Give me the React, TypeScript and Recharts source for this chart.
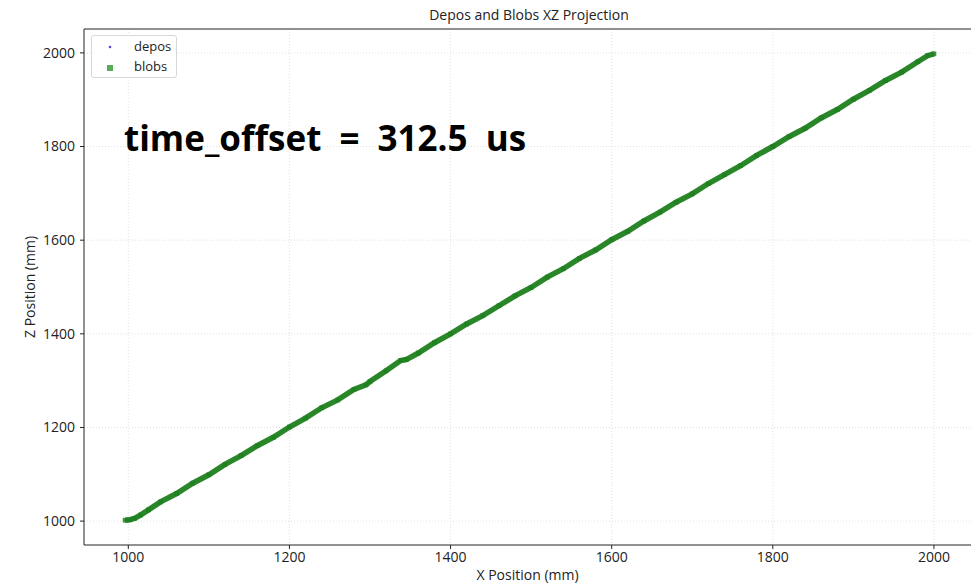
import React from "react";
import {
  CartesianGrid,
  ReferenceLine,
  Scatter,
  ScatterChart,
  XAxis,
  YAxis,
  ZAxis,
} from "recharts";

// blob positions (mm)
const blobX = [
  996, 1002, 1008, 1015, 1025, 1040, 1060, 1080, 1100, 1120, 1140, 1160, 1180,
  1200, 1220, 1240, 1260, 1280, 1295, 1300, 1320, 1338, 1345, 1360, 1380, 1400,
  1420, 1440, 1460, 1480, 1500, 1520, 1540, 1560, 1580, 1600, 1620, 1640, 1660,
  1680, 1700, 1720, 1740, 1760, 1780, 1800, 1820, 1840, 1860, 1880, 1900, 1920,
  1940, 1960, 1980, 1992, 2000,
];
const blobZ = [
  1002, 1003, 1006, 1013, 1024, 1041, 1059, 1081, 1099, 1121, 1140, 1161, 1179,
  1201, 1220, 1242, 1259, 1281, 1291, 1298, 1321, 1343, 1345, 1359, 1381, 1400,
  1421, 1439, 1460, 1481, 1499, 1521, 1539, 1561, 1579, 1601, 1619, 1641, 1660,
  1681, 1699, 1721, 1740, 1759, 1781, 1800, 1821, 1839, 1861, 1879, 1901, 1920,
  1941, 1959, 1981, 1994, 1998,
];

// depo positions (mm), mostly hidden under the blobs
const depoX = [1000, 1100, 1200, 1300, 1400, 1500, 1600, 1700, 1800, 1900, 2000];
const depoZ = [1001, 1100, 1200, 1300, 1400, 1500, 1600, 1700, 1800, 1900, 1999];

const xTicks = [1000, 1200, 1400, 1600, 1800, 2000];
const yTicks = [1000, 1200, 1400, 1600, 1800, 2000];

const blobs = blobX.map((x, i) => ({ x, z: blobZ[i] }));
const depos = depoX.map((x, i) => ({ x, z: depoZ[i] }));

const FONT = "'Open Sans', 'DejaVu Sans', sans-serif";
const X_DOMAIN = [945, 2046];
const Y_DOMAIN = [949, 2051];

const LegendBox = () => (
  <div
    style={{
      position: "absolute",
      left: 91,
      top: 35,
      width: 86,
      height: 43,
      boxSizing: "border-box",
      border: "1px solid #d8d8d8",
      borderRadius: 3,
      background: "rgba(255,255,255,0.9)",
      fontFamily: FONT,
      fontSize: 13,
      color: "#222",
    }}
  >
    <svg width={20} height={40} style={{ position: "absolute", left: 9, top: 1 }}>
      <circle cx={9} cy={10} r={1.3} fill="#4b4bd8" />
      <rect x={6} y={28} width={6} height={6} fill="#5aab5a" />
    </svg>
    <div style={{ position: "absolute", left: 42, top: 0, lineHeight: "20px" }}>depos</div>
    <div style={{ position: "absolute", left: 42, top: 20, lineHeight: "20px" }}>blobs</div>
  </div>
);

const DepoDot = (props: any) => (
  <circle cx={props.cx} cy={props.cy} r={1} fill="#3b3bd6" fillOpacity={0.7} />
);

export default function App() {
  return (
    <div
      style={{
        position: "absolute",
        left: 0,
        top: 0,
        width: 971,
        height: 586,
        background: "#fff",
        overflow: "hidden",
      }}
    >
      <div
        style={{
          position: "absolute",
          top: 5,
          left: 84,
          width: 890,
          textAlign: "center",
          fontFamily: FONT,
          fontSize: 14,
          color: "#222",
        }}
      >
        Depos and Blobs XZ Projection
      </div>
      <ScatterChart
        width={971}
        height={586}
        margin={{ top: 29, right: 0, bottom: 0, left: 0 }}
      >
        <CartesianGrid
          stroke="#e0e0e0"
          strokeDasharray="1 2"
          verticalValues={xTicks}
          horizontalValues={yTicks}
        />
        <XAxis
          type="number"
          dataKey="x"
          domain={X_DOMAIN}
          ticks={xTicks}
          allowDataOverflow
          height={41}
          tickSize={4}
          tickMargin={3}
          stroke="#222"
          tick={{ fill: "#222", fontSize: 14, fontFamily: FONT }}
          label={{
            value: "X Position (mm)",
            position: "insideBottom",
            offset: 6,
            fill: "#222",
            fontSize: 14,
            fontFamily: FONT,
          }}
        />
        <YAxis
          type="number"
          dataKey="z"
          domain={Y_DOMAIN}
          ticks={yTicks}
          allowDataOverflow
          width={84}
          tickSize={4}
          tickMargin={5}
          stroke="#222"
          tick={{ fill: "#222", fontSize: 14, fontFamily: FONT }}
          label={{
            value: "Z Position (mm)",
            angle: -90,
            position: "insideLeft",
            offset: 30,
            fill: "#222",
            fontSize: 14,
            fontFamily: FONT,
            style: { textAnchor: "middle" },
          }}
        />
        <ZAxis range={[22, 22]} />
        <ReferenceLine y={Y_DOMAIN[1]} stroke="#222" ifOverflow="extendDomain" />
        <Scatter
          name="depos"
          data={depos}
          shape={<DepoDot />}
          isAnimationActive={false}
        />
        <Scatter
          name="blobs"
          data={blobs}
          fill="#1e801e"
          fillOpacity={0.85}
          shape="square"
          line={{ stroke: "#1e801e", strokeWidth: 5.5, strokeOpacity: 0.95 }}
          lineType="joint"
          isAnimationActive={false}
        />
      </ScatterChart>
      <LegendBox />
      <div
        style={{
          position: "absolute",
          left: 124,
          top: 114,
          fontFamily: FONT,
          fontWeight: 700,
          fontSize: 35,
          wordSpacing: 9,
          color: "#000",
          whiteSpace: "pre",
        }}
      >
        time_offset = 312.5 us
      </div>
    </div>
  );
}
